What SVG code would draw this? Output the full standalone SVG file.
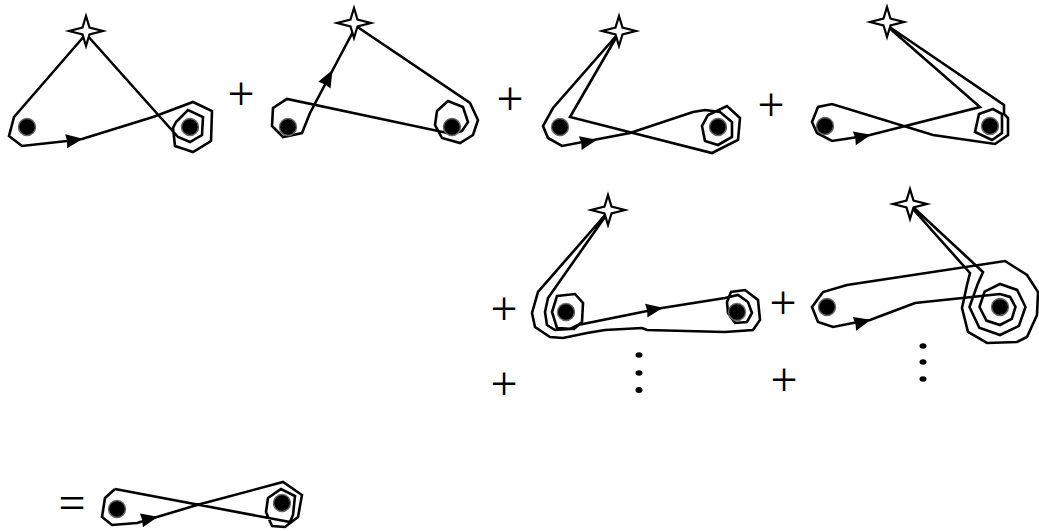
<svg xmlns="http://www.w3.org/2000/svg" xmlns:xlink="http://www.w3.org/1999/xlink" width="1039" height="531" viewBox="0 0 1039 531">
<style>
.ln{fill:none;stroke:#000;stroke-width:2.6;stroke-linejoin:miter;stroke-miterlimit:3}
.st{fill:#fff;stroke:#000;stroke-width:2.2;stroke-linejoin:miter}
.pt{fill:#000;stroke:#666;stroke-width:1.4}
.el{fill:#000}
.op{font-family:"Liberation Serif","Times New Roman",serif;font-size:48px;text-anchor:middle;fill:#000}
</style>
<defs>
<path id="star" d="M0,-15 L3.5,-3.5 L17,0 L3.5,3.5 L0,15 L-3.5,3.5 L-17,0 L-3.5,-3.5 Z"/>
<path id="arr" d="M1,0 L-16,-7 L-15,0 L-16,7 Z"/>
</defs>
<rect width="1039" height="531" fill="#fff"/>
<g id="connectors">
<path class="ln" d="M86,34 L14,117 L9,136 L22,146 L67,141 L82,139 L153,117 L193,102 L212,111 L211,141 L193,152 L175,146 L173,128 L176,122 L188,110 L203,117 L202,135 L190,142 L178,137 L86,34"/>
<path class="ln" d="M356,26 L470,103 L478,120 L473,135 L460,143 L442,138 L435,125 L437,111 L448,101 L463,107 L468,122 L462,131 L452,134 L287,99 L273,108 L272,126 L283,137 L302,133 L310,113 L356,26"/>
<path class="ln" d="M617,35 L553,108 L543,126 L548,138 L562,146 L630,133 L693,112 L705,110 L720,112 L732,122 L732,137 L718,145 L705,141 L702,126 L708,115 L727,106 L740,118 L738,140 L712,153 L570,117 L617,36"/>
<path class="ln" d="M887,26 L980,107 L870,135 L858,137 L832,141 L817,133 L812,122 L818,107 L832,104 L933,135 L995,144 L1008,135 L1008,118 L1004,114 L1004,105 L888,26"/>
<path class="ln" d="M979,114 L993,109 L1002,114 L1002,133 L992,140 L975,132 Z"/>
<path class="ln" d="M606,214 L538,292 L532,313 L535,327 L550,337 L563,338 L587,333 L605,330 L642,328 L647,330 L725,332 L753,330 L760,320 L758,300 L745,290 L731,292 L727,302 L728,313 L735,323 L747,322 L752,313 L748,302 L738,295 L725,298 L662,308 L578,325 L570,329 L555,330 L547,325 L545,312 L548,298 L607,214"/>
<path class="ln" d="M557,296 L575,294 L583,303 L582,322 L574,329 L557,328 L552,312 Z"/>
<path class="ln" d="M912,208 L970,273 L967,285 L962,308 L968,332 L987,343 L1017,342 L1027,337 L1037,315 L1038,292 L1027,275 L1005,261 L847,285 L823,292 L812,307 L818,322 L833,327 L853,323 L870,320 L915,303 L1000,294 L1010.1,296.9 L1015.5,307 L1011.8,318.8 L1000,325 L986.4,320.6 L979.5,307 L984.6,291.6 L1000,284 L1017.1,289.9 L1025.5,307 L1018.9,325.9 L1000,335 L979.3,327.7 L969.5,307 L977.5,284.5 L983,272 L914,208"/>
<path class="ln" d="M115,489 L105,498 L102,517 L112,525 L137,523 L157,517 L197,505 L283,482 L302,495 L298,517 L285,527 L272,526 L266,512 L268,498 L281,489 L295,496 L293,515 L290,522 L115,489"/>
<use xlink:href="#arr" transform="translate(82,139) rotate(-8)"/>
<use xlink:href="#arr" transform="translate(332,71) rotate(-61.6)"/>
<use xlink:href="#arr" transform="translate(596,140) rotate(-11)"/>
<use xlink:href="#arr" transform="translate(870,135) rotate(-12)"/>
<use xlink:href="#arr" transform="translate(662,308) rotate(-9.7)"/>
<use xlink:href="#arr" transform="translate(870,320) rotate(-14)"/>
<use xlink:href="#arr" transform="translate(157,517) rotate(-12)"/>
</g>
<g id="stars">
<use xlink:href="#star" class="st" x="86" y="31"/>
<use xlink:href="#star" class="st" x="354" y="23"/>
<use xlink:href="#star" class="st" x="619" y="31"/>
<use xlink:href="#star" class="st" x="887" y="22"/>
<use xlink:href="#star" class="st" x="608" y="210"/>
<use xlink:href="#star" class="st" x="910" y="204"/>
</g>
<g id="punctures">
<circle class="pt" cx="27" cy="127" r="8.5"/>
<circle class="pt" cx="190" cy="127" r="8.5"/>
<circle class="pt" cx="288" cy="127" r="8.5"/>
<circle class="pt" cx="452" cy="127" r="8.5"/>
<circle class="pt" cx="560" cy="127" r="8.5"/>
<circle class="pt" cx="718" cy="127" r="8.5"/>
<circle class="pt" cx="825" cy="126" r="8.5"/>
<circle class="pt" cx="990" cy="126" r="8.5"/>
<circle class="pt" cx="566" cy="312" r="8.5"/>
<circle class="pt" cx="737" cy="312" r="8.5"/>
<circle class="pt" cx="827" cy="307" r="8.5"/>
<circle class="pt" cx="1000" cy="307" r="8.5"/>
<circle class="pt" cx="117" cy="509" r="8.5"/>
<circle class="pt" cx="282" cy="503" r="8.5"/>
</g>
<g id="ellipses">
<ellipse class="el" cx="639" cy="355" rx="3.5" ry="2.8"/>
<ellipse class="el" cx="639" cy="373" rx="3.5" ry="2.8"/>
<ellipse class="el" cx="639" cy="390" rx="3.5" ry="3"/>
<ellipse class="el" cx="923" cy="346" rx="3.5" ry="2.8"/>
<ellipse class="el" cx="923" cy="362" rx="3.5" ry="2.8"/>
<ellipse class="el" cx="923" cy="379" rx="3.5" ry="2.8"/>
</g>
<g id="operators">
<text class="op" x="241" y="110">+</text>
<text class="op" x="510" y="115">+</text>
<text class="op" x="771" y="121">+</text>
<text class="op" x="504" y="325">+</text>
<text class="op" x="783" y="319">+</text>
<text class="op" x="504" y="400">+</text>
<text class="op" x="784" y="396">+</text>
<text class="op" x="72" y="519">=</text>
</g>
</svg>
